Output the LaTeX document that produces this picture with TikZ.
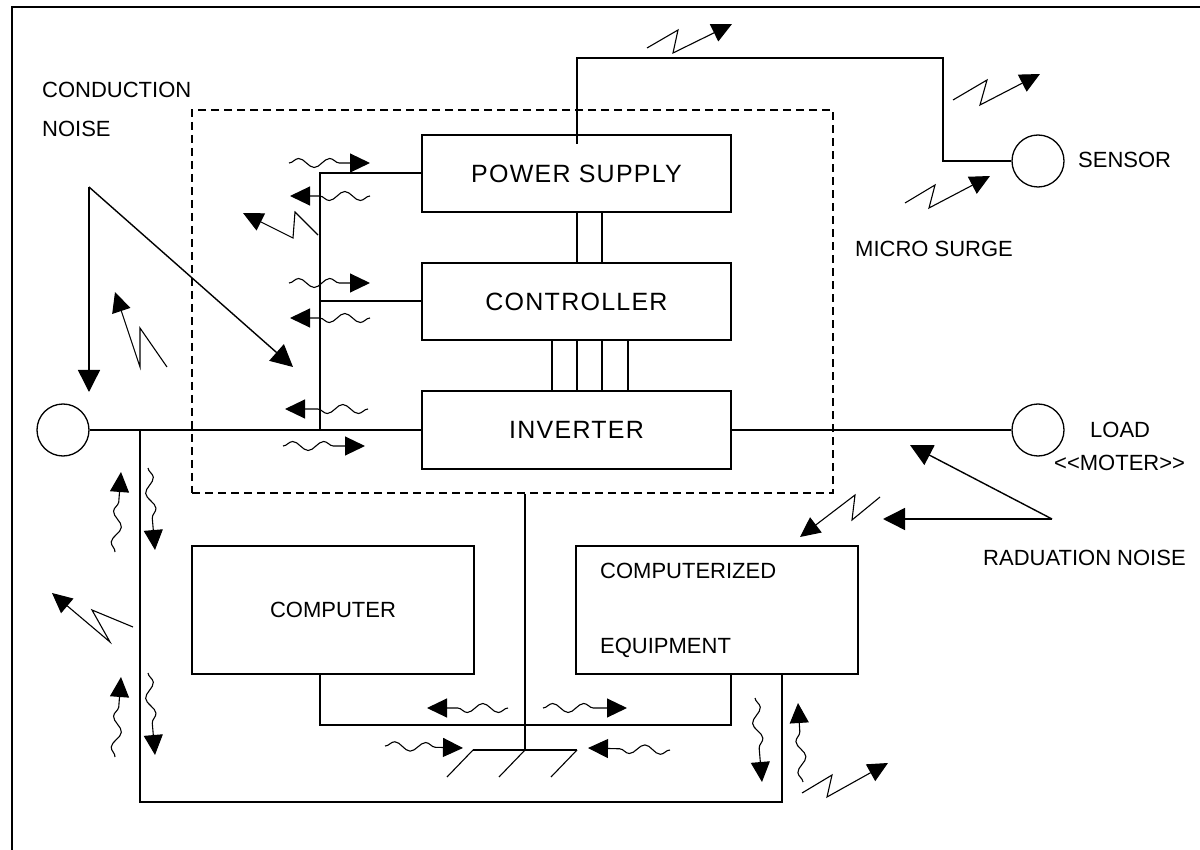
\documentclass[tikz,border=0pt]{standalone}
\usepackage{fontspec}
\setmainfont{Liberation Sans}
\newfontfamily\boxfont[LetterSpace=5]{Liberation Sans}
\usetikzlibrary{arrows.meta,decorations.pathmorphing}
\tikzset{
  wire/.style={line width=2pt},
  unit/.style={draw, line width=2pt, inner sep=0pt, minimum width=309pt, minimum height=77pt,
    font=\boxfont\fontsize{25}{30}\selectfont},
  device/.style={draw, line width=2pt, inner sep=0pt, minimum width=282pt, minimum height=128pt,
    font=\fontsize{22}{26}\selectfont},
  term/.style={draw, circle, line width=1.3pt, minimum size=52pt, inner sep=0pt},
  lbl/.style={inner sep=0pt, anchor=base west, font=\fontsize{22}{26}\selectfont},
  noise/.style={line width=1.1pt, -{Triangle[length=20pt,width=19pt]}},
  wavy/.style={noise, decorate,
    decoration={snake, amplitude=4.5pt, segment length=31pt, post length=20pt}},
  bolt/.style={noise, line join=miter},
  pointer/.style={line width=1.4pt, -{Triangle[length=22pt,width=22pt]}},
}
\begin{document}
\begin{tikzpicture}[x=1pt,y=-1pt]
\useasboundingbox (0,0) rectangle (1200,850);
% frame (top and left edges)
\draw[wire] (12,850) -- (12,7) -- (1200,7);

% shielded enclosure
\node[draw, dash pattern=on 8pt off 5pt, line width=1.7pt, minimum width=641pt,
      minimum height=383pt, inner sep=0pt] (shield) at (512.5,301.5) {};

% blocks
\node[unit] (ps)   at (576.5,173.5) {POWER SUPPLY};
\node[unit] (ctrl) at (576.5,301.5) {CONTROLLER};
\node[unit] (inv)  at (576.5,430)   {INVERTER};
\node[device] (comp) at (333,610) {COMPUTER};
\node[device] (ceq)  at (717,610) {};
\node[term] (src)    at (63,430)   {};
\node[term] (sensor) at (1038,161) {};
\node[term] (load)   at (1038,430) {};

% routing points
\coordinate (bus)  at (320,430);
\coordinate (tap)  at (140,430);
\coordinate (ret)  at (782,802);
\coordinate (psup) at (943,58);
\coordinate (cl)   at (320,725);
\coordinate (cr)   at (731,725);
\coordinate (gnd)  at (525,750);

% wiring
\draw[wire] (src) -- (inv);
\draw[wire] (ps.west) -| (bus);
\draw[wire] (ctrl.west) -- (ctrl.west -| bus);
\draw[wire] ([yshift=-10pt]ps.north) |- (psup) |- (sensor.west);
\foreach \dx in {0,25}
  \draw[wire] ([xshift=\dx pt]ps.south) -- ([xshift=\dx pt]ctrl.north);
\foreach \dx in {-25,0,25,51}
  \draw[wire] ([xshift=\dx pt]ctrl.south) -- ([xshift=\dx pt]inv.north);
\draw[wire] (inv) -- (load);
\draw[wire] (tap) |- (ret) -- (ret |- ceq.south);
\draw[wire] (cl |- comp.south) |- (cr) -- (cr |- ceq.south);
\draw[wire] (gnd |- shield.south) -- (gnd);

% earth symbol
\draw[wire] (473,750) -- (577,750);
\foreach \x in {473,525,577}
  \draw[line width=1.1pt] (\x,750) -- ++(-26,27);

% labels
\node[lbl] (cn1) at (42,98)   {CONDUCTION};
\node[lbl] (cn2) at (42,137)  {NOISE};
\node[lbl] (ms)  at (855,257) {MICRO SURGE};
\node[lbl] (sn)  at (1078,168) {SENSOR};
\node[lbl] (ld)  at (1090,437) {LOAD};
\node[lbl] (mt)  at (1054,470) {<\kern0pt<MOTER>\kern0pt>};
\node[lbl] (rn)  at (983,565) {RADUATION NOISE};
\node[lbl] (ce1) at (600,578) {COMPUTERIZED};
\node[lbl] (ce2) at (600,653) {EQUIPMENT};

% conduction and radiation pointers
\coordinate (cnsrc) at (89,187);
\coordinate (rnsrc) at (1052,519);
\draw[pointer] (cnsrc) -- (89,392);
\draw[pointer] (cnsrc) -- (293,367);
\draw[pointer] (rnsrc) -- (910,445);
\draw[pointer] (rnsrc) -- (883,519);

% surge bolts
\draw[bolt] (647,48) -- (678,30) -- (673,53) -- (732,24);
\draw[bolt] (953,100) -- (987,80) -- (980,105) -- (1040,74);
\draw[bolt] (905,203) -- (935,185) -- (929,208) -- (990,176);
\draw[bolt] (318,235) -- (295,212) -- (293,238) -- (243,213);
\draw[bolt] (167,367) -- (140,328) -- (140,367) -- (115,292);
\draw[bolt] (133,627) -- (92,610) -- (110,642) -- (52,593);
\draw[bolt] (880,497) -- (852,520) -- (855,495) -- (800,537);
\draw[bolt] (802,793) -- (832,775) -- (827,797) -- (888,763);

% conducted noise waves
\draw[wavy] (289,163) -- (370,163);
\draw[wavy] (370,196) -- (290,196);
\draw[wavy] (289,283) -- (370,283);
\draw[wavy] (370,318) -- (290,318);
\draw[wavy] (368,409) -- (285,409);
\draw[wavy] (283,446) -- (365,446);
\draw[wavy] (115,552) -- (121,472);
\draw[wavy] (148,468) -- (155,550);
\draw[wavy] (115,757) -- (121,677);
\draw[wavy] (148,673) -- (155,755);
\draw[wavy] (508,708) -- (427,708);
\draw[wavy] (543,708) -- (627,708);
\draw[wavy] (385,746) -- (463,748);
\draw[wavy] (670,750) -- (588,748);
\draw[wavy] (755,698) -- (762,782);
\draw[wavy] (803,782) -- (798,703);
\end{tikzpicture}
\end{document}
